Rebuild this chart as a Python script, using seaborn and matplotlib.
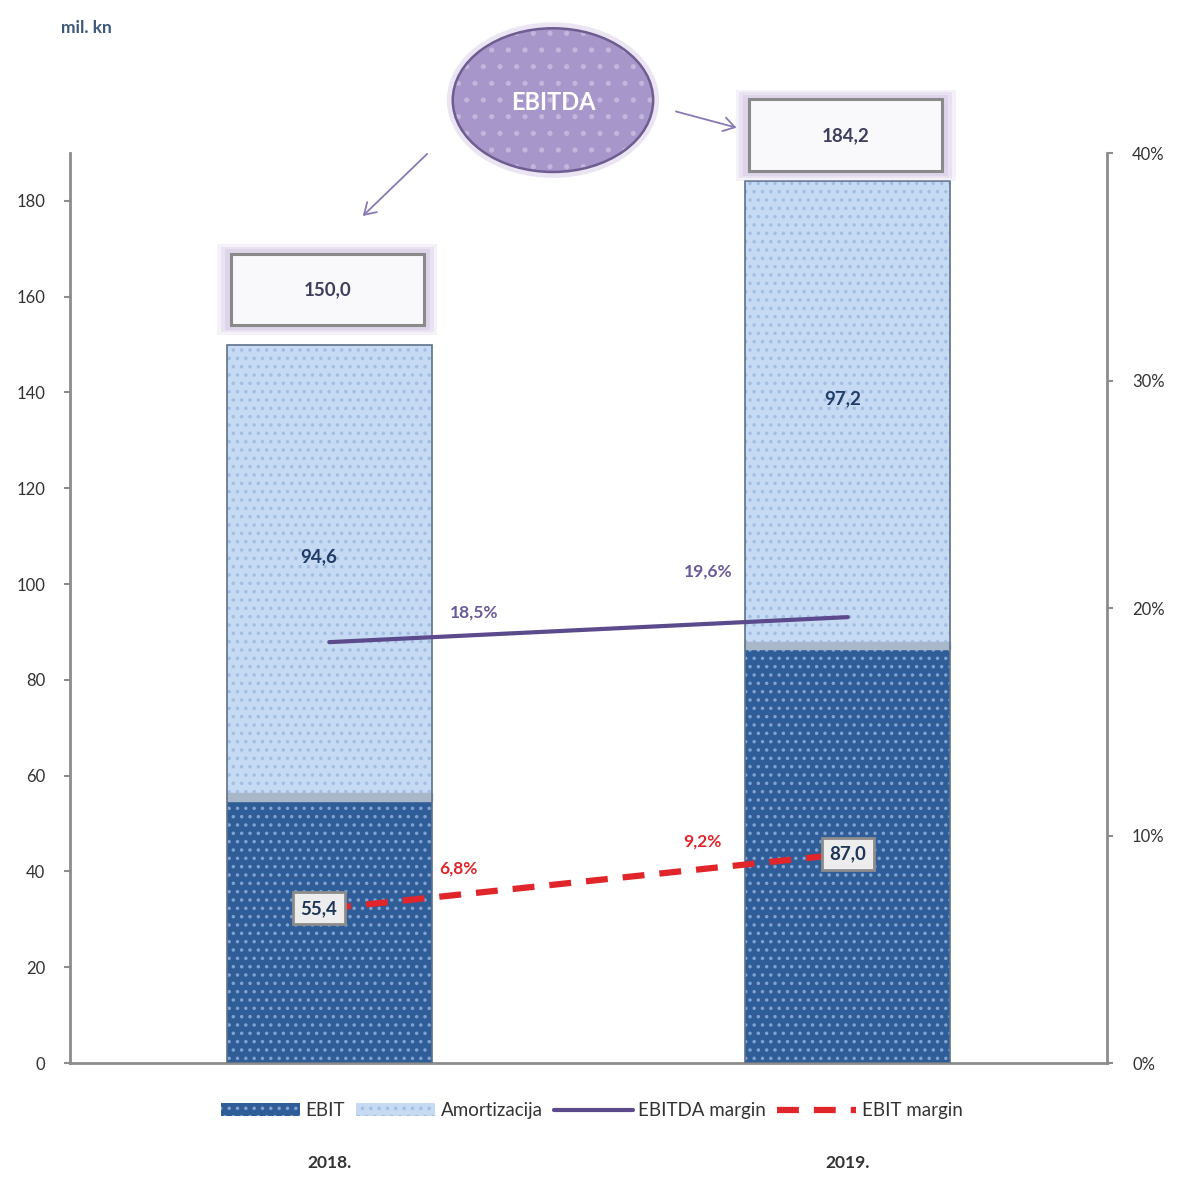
import matplotlib
matplotlib.use("Agg")
import matplotlib.pyplot as plt
import seaborn as sns
import pandas as pd
from matplotlib.patches import Rectangle, Ellipse, Patch, FancyArrowPatch
from matplotlib.lines import Line2D

years = ["2018.", "2019."]
ebit = [55.4, 87.0]
amortizacija = [94.6, 97.2]
ebitda = [150.0, 184.2]
ebitda_margin = [0.185, 0.196]
ebit_margin = [0.068, 0.092]
ebitda_margin_lbl = ["18,5%", "19,6%"]
ebit_margin_lbl = ["6,8%", "9,2%"]

df = pd.DataFrame({"year": years, "ebit": ebit, "amort": amortizacija, "total": ebitda})

sns.set_style("white")
plt.rcParams["font.family"] = ["Lato", "DejaVu Sans"]
plt.rcParams["hatch.linewidth"] = 1.3

fig = plt.figure(figsize=(11.79, 11.78), dpi=100)
ax = fig.add_axes([0.0594, 0.0976, 0.8796, 0.7725])

dark = "#2f5d98"
light = "#c6daf3"

# stacked bars: total first (amortizacija colour), EBIT on top
sns.barplot(data=df, x="year", y="total", color=light, saturation=1, width=0.395,
            hatch="..", edgecolor="#a3bee3", linewidth=0, ax=ax)
sns.barplot(data=df, x="year", y="ebit", color=dark, saturation=1, width=0.395,
            hatch="..", edgecolor="#7fa2d2", linewidth=0, ax=ax)
for i in range(len(years)):
    # thin separator + bevel edges
    ax.add_patch(Rectangle((i - 0.1975, ebit[i] - 0.6), 0.395, 1.6, color="#a9b8c8", zorder=3))
    ax.add_patch(Rectangle((i - 0.1975, 0), 0.395, ebitda[i], fill=False,
                           edgecolor="#5f7189", lw=1.2, zorder=3))

ax.set_xlim(-0.5, 1.5)
ax.set_ylim(0, 190)
ax.set_yticks(range(0, 181, 20))
ax.set_xlabel("")
ax.set_ylabel("")
ax.tick_params(axis="y", length=4, width=1.5, color="#8c8c8c", labelsize=12,
               labelcolor="#333333", pad=14, direction="out", left=True)
ax.tick_params(axis="x", length=0, pad=66, labelsize=12.5, labelcolor="#333333")
for t in ax.get_xticklabels():
    t.set_fontweight("bold")
for s in ["top", "right"]:
    ax.spines[s].set_visible(False)
for s in ["left", "bottom"]:
    ax.spines[s].set_color("#8c8c8c")
    ax.spines[s].set_linewidth(2)

# segment labels
for i in range(len(years)):
    ax.text(i - 0.02 * (1 - i) - 0.01 * i, ebit[i] + amortizacija[i] / 2 + 3,
            f"{amortizacija[i]:.1f}".replace(".", ","), ha="center", va="center",
            fontsize=13.5, fontweight="bold", color="#203c68", zorder=5)

# EBITDA total boxes with purple glow
for i in range(len(years)):
    y0 = ebitda[i] + 4 if i == 0 else ebitda[i] + 2
    x0 = i - 0.19
    for k, a in zip([2.2, 1.6, 1.0], [0.25, 0.35, 0.5]):
        ax.add_patch(Rectangle((x0 - 0.012 * k, y0 - 0.9 * k), 0.372 + 0.024 * k, 15 + 1.8 * k,
                               facecolor="#d6c9e6", edgecolor="none", alpha=a,
                               clip_on=False, zorder=4))
    ax.add_patch(Rectangle((x0, y0), 0.372, 15, facecolor="#f9f8fb", edgecolor="#8a8a8a",
                           lw=2.2, clip_on=False, zorder=5))
    ax.text(x0 + 0.186, y0 + 7.5, f"{ebitda[i]:.1f}".replace(".", ","), ha="center",
            va="center", fontsize=13.5, fontweight="bold", color="#3e3e5e",
            clip_on=False, zorder=6)

# margins on secondary axis
ax2 = ax.twinx()
sns.lineplot(x=[0, 1], y=ebitda_margin, color="#5b4a8c", lw=3, ax=ax2)
sns.lineplot(x=[0, 1], y=ebit_margin, color="#e0252b", lw=4.5, ax=ax2)
ax2.lines[1].set_linestyle((0, (3.5, 2.4)))
ax2.set_xlim(-0.5, 1.5)
ax2.set_ylim(0, 0.40)
ax2.set_yticks([0, 0.1, 0.2, 0.3, 0.4])
ax2.set_yticklabels(["0%", "10%", "20%", "30%", "40%"])
ax2.tick_params(axis="y", length=4, width=1.5, color="#8c8c8c", labelsize=12,
                labelcolor="#333333", pad=14, right=True)
for s in ["top", "left", "bottom"]:
    ax2.spines[s].set_visible(False)
ax2.spines["right"].set_color("#8c8c8c")
ax2.spines["right"].set_linewidth(2)

# margin labels
ax2.text(0.28, ebitda_margin[0] + 0.013, ebitda_margin_lbl[0], ha="center", va="center",
         fontsize=12.5, fontweight="bold", color="#6a5a9a")
ax2.text(0.73, ebitda_margin[1] + 0.02, ebitda_margin_lbl[1], ha="center", va="center",
         fontsize=12.5, fontweight="bold", color="#6a5a9a")
ax2.text(0.25, ebit_margin[0] + 0.0175, ebit_margin_lbl[0], ha="center", va="center",
         fontsize=12.5, fontweight="bold", color="#e0252b")
ax2.text(0.72, ebit_margin[1] + 0.0055, ebit_margin_lbl[1], ha="center", va="center",
         fontsize=12.5, fontweight="bold", color="#e0252b")

# EBIT value boxes sit on the EBIT margin line
for i, xo in zip(range(len(years)), [-0.02, 0.0]):
    ax2.text(i + xo, ebit_margin[i], f"{ebit[i]:.1f}".replace(".", ","), ha="center",
             va="center", fontsize=13.5, fontweight="bold", color="#1d3557", zorder=6,
             bbox=dict(boxstyle="square,pad=0.4", facecolor="#ededed", edgecolor="#8c8c8c", lw=2))

# EBITDA bubble and arrows
fig.patches.append(Ellipse((0.469, 0.915), 0.180, 0.132, transform=fig.transFigure,
                           facecolor="#e6dff0", edgecolor="none", alpha=0.8))
fig.patches.append(Ellipse((0.469, 0.915), 0.170, 0.122, transform=fig.transFigure,
                           facecolor="#a796ca", edgecolor="#c3b6dd", lw=0, hatch="."))
fig.patches.append(Ellipse((0.469, 0.915), 0.170, 0.122, transform=fig.transFigure,
                           facecolor="none", edgecolor="#6f5d92", lw=1.8))
fig.text(0.469, 0.913, "EBITDA", ha="center", va="center", fontsize=17,
         color="white", fontweight="bold")
fig.patches.append(FancyArrowPatch((0.364, 0.871), (0.306, 0.815), transform=fig.transFigure,
                                   arrowstyle="->,head_length=8,head_width=5",
                                   color="#8a78b4", lw=1.3))
fig.patches.append(FancyArrowPatch((0.571, 0.906), (0.627, 0.891), transform=fig.transFigure,
                                   arrowstyle="->,head_length=8,head_width=5",
                                   color="#8a78b4", lw=1.3))

fig.text(0.052, 0.976, "mil. kn", fontsize=12.5, fontweight="bold", color="#3b5878",
         va="center")

handles = [
    Patch(facecolor=dark, hatch="..", edgecolor="#7fa2d2", lw=0, label="EBIT"),
    Patch(facecolor=light, hatch="..", edgecolor="#a3bee3", lw=0, label="Amortizacija"),
    Line2D([], [], color="#5b4a8c", lw=3, label="EBITDA margin"),
    Line2D([], [], color="#e0252b", lw=4.5, ls=(0, (3.5, 2.4)), label="EBIT margin"),
]
fig.legend(handles=handles, loc="center", bbox_to_anchor=(0.502, 0.057), ncol=4,
           frameon=False, fontsize=13.5, handlelength=4.2, handletextpad=0.3,
           columnspacing=0.6, labelcolor="#333333")

fig.savefig("out.png", dpi=100)
